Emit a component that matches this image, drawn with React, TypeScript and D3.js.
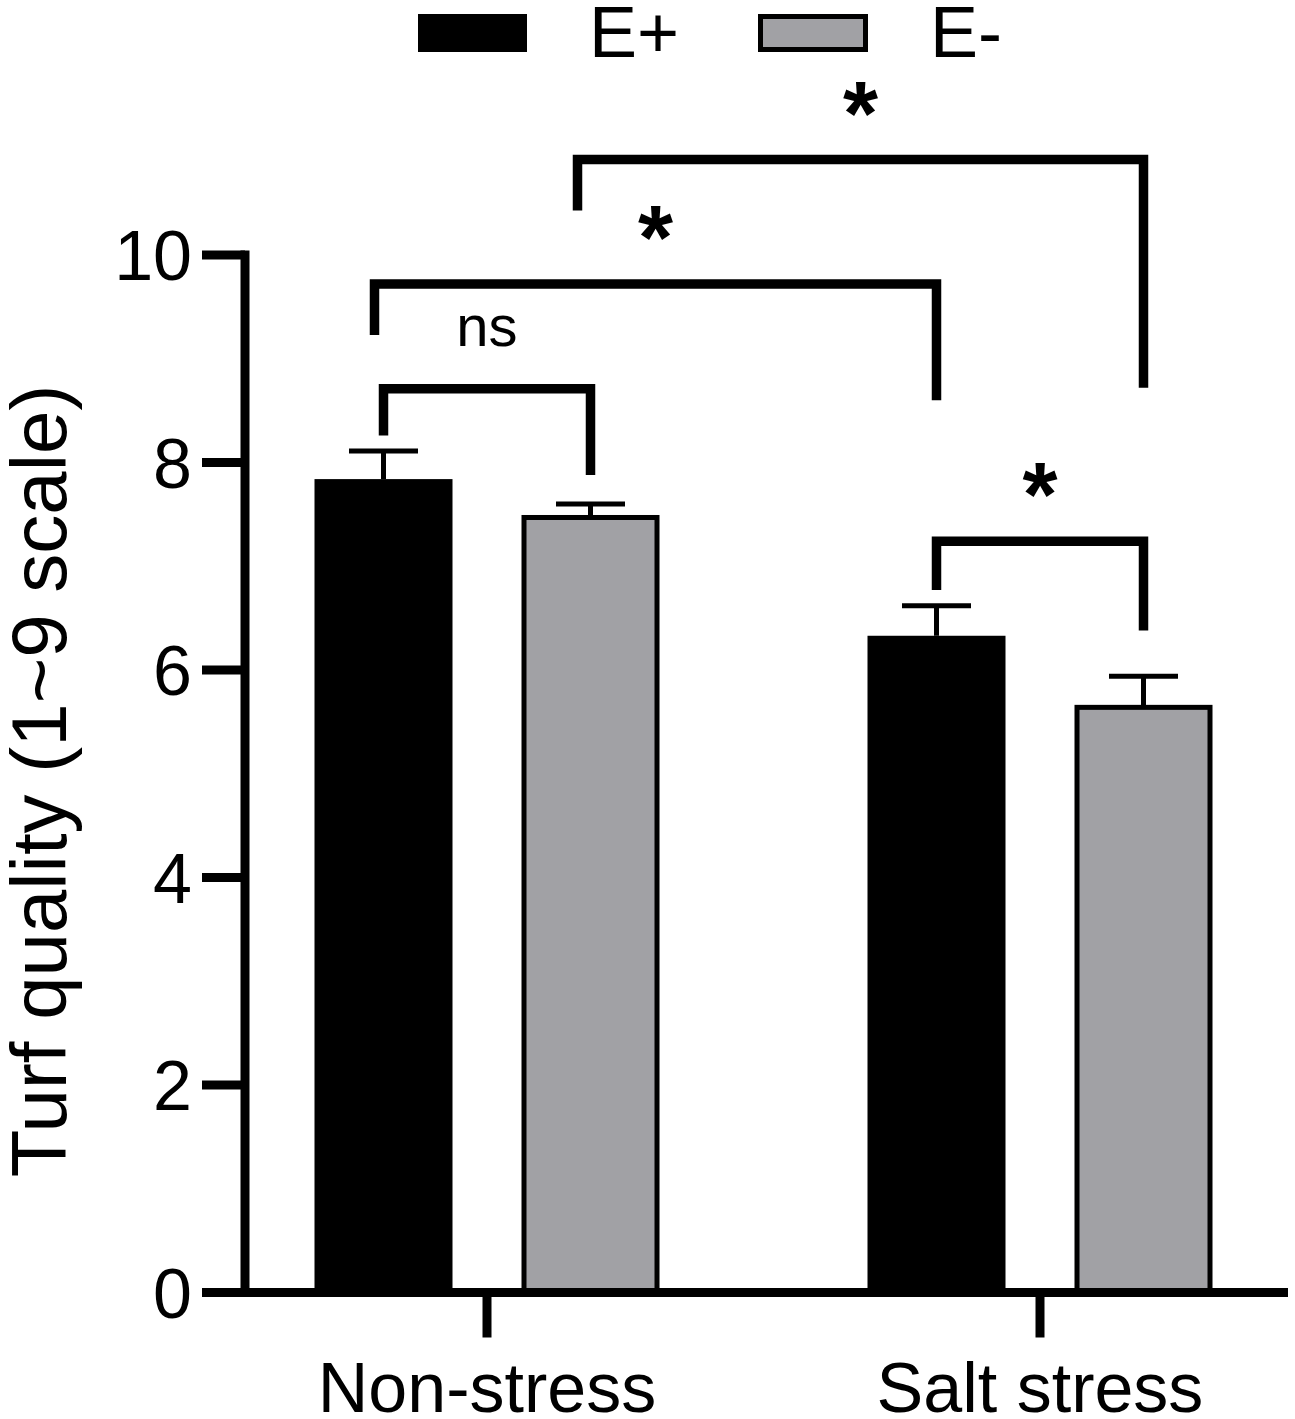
import React from "react";
import * as d3 from "d3";

const groups = ["Non-stress", "Salt stress"];
const series = ["E+", "E-"];
const meanEPlus = [7.84, 6.33];
const meanEMinus = [7.47, 5.64];
const semEPlus = [0.27, 0.29];
const semEMinus = [0.13, 0.3];
const yTicks = [0, 2, 4, 6, 8, 10];
const seriesFill = ["#000000", "#a1a1a5"];

// significance brackets: [group, series] endpoints, levels in data units
const bracketFrom = [[0, 0], [0, 0], [0, 1], [1, 0]];
const bracketTo = [[0, 1], [1, 0], [1, 1], [1, 1]];
const bracketLevel = [8.71, 9.72, 10.92, 7.24];
const bracketLeftEnd = [8.26, 9.23, 10.43, 6.77];
const bracketRightEnd = [7.88, 8.6, 8.72, 6.38];
const bracketLabel = ["ns", "*", "*", "*"];
const bracketLeftNudge = [0, -9, -13, 0];

const W = 1295;
const H = 1419;
const FONT = "'Liberation Sans', Arial, sans-serif";

export default function App() {
  const y = d3.scaleLinear().domain([0, 10]).range([1292.5, 255]);
  const xg = d3.scalePoint<string>().domain(groups).range([487, 1040]);
  const xs = d3.scaleBand<string>().domain(series).range([-172.5, 172.5]).paddingInner(1 / 3).paddingOuter(0);
  const bw = xs.bandwidth();
  const means = [meanEPlus, meanEMinus];
  const sems = [semEPlus, semEMinus];
  const cx = (g: number, s: number) => (xg(groups[g]) as number) + (xs(series[s]) as number) + bw / 2;

  const bars: any[] = [];
  groups.forEach((g, gi) => {
    series.forEach((s, si) => {
      bars.push({ gi, si, x: (xg(g) as number) + (xs(s) as number), v: means[si][gi], e: sems[si][gi] });
    });
  });

  const axisW = 9;
  const x0 = 202;
  const x1 = 1288;
  const yAxisX = 245;

  return (
    <svg width={W} height={H} style={{ position: "absolute", left: 0, top: 0, background: "#fff" }} fontFamily={FONT}>
      <rect x={0} y={0} width={W} height={H} fill="#fff" />
      {/* legend */}
      <rect x={418} y={14} width={109} height={38} fill={seriesFill[0]} />
      <text x={589} y={57} fontSize={72} fill="#000">{series[0]}</text>
      <rect x={760.5} y={16.5} width={105} height={33} fill={seriesFill[1]} stroke="#000" strokeWidth={5} />
      <text x={930} y={57} fontSize={72} fill="#000">{series[1]}</text>

      {/* bars */}
      {bars.map((b, i) =>
        b.si === 0 ? (
          <rect key={"b" + i} x={b.x} y={y(b.v)} width={bw} height={y(0) - y(b.v)} fill={seriesFill[0]} />
        ) : (
          <rect key={"b" + i} x={b.x + 2.5} y={y(b.v)} width={bw - 5} height={y(0) - y(b.v)} fill={seriesFill[1]} stroke="#000" strokeWidth={5} />
        )
      )}
      {/* error bars */}
      {bars.map((b, i) => {
        const c = b.x + bw / 2;
        return (
          <g key={"e" + i} stroke="#000" strokeWidth={5}>
            <line x1={c} x2={c} y1={y(b.v)} y2={y(b.v + b.e)} />
            <line x1={c - bw / 4} x2={c + bw / 4} y1={y(b.v + b.e)} y2={y(b.v + b.e)} />
          </g>
        );
      })}

      {/* y axis */}
      <line x1={yAxisX} x2={yAxisX} y1={y(10)} y2={y(0)} stroke="#000" strokeWidth={axisW} strokeLinecap="square" />
      {yTicks.map((t) => (
        <g key={"yt" + t}>
          <line x1={x0} x2={yAxisX} y1={y(t)} y2={y(t)} stroke="#000" strokeWidth={axisW} />
          <text x={192} y={y(t) + 25} fontSize={70} textAnchor="end" fill="#000">{t}</text>
        </g>
      ))}
      {/* x axis */}
      <line x1={x0} x2={x1} y1={y(0)} y2={y(0)} stroke="#000" strokeWidth={axisW} />
      {groups.map((g) => (
        <g key={"xt" + g}>
          <line x1={xg(g)} x2={xg(g)} y1={y(0)} y2={y(0) + 45} stroke="#000" strokeWidth={axisW} />
          <text x={xg(g)} y={1412} fontSize={70} textAnchor="middle" fill="#000">{g}</text>
        </g>
      ))}

      {/* y title */}
      <text transform={`translate(66,781) rotate(-90)`} fontSize={78} textAnchor="middle" fill="#000">Turf quality (1~9 scale)</text>

      {/* brackets */}
      {bracketLabel.map((lab, i) => {
        const xl = cx(bracketFrom[i][0], bracketFrom[i][1]) + bracketLeftNudge[i];
        const xr = cx(bracketTo[i][0], bracketTo[i][1]);
        const yl = y(bracketLevel[i]);
        const mid = (xl + xr) / 2;
        const labCenter = yl - 59;
        return (
          <g key={"br" + i}>
            <path
              d={`M${xl},${y(bracketLeftEnd[i])}V${yl}H${xr}V${y(bracketRightEnd[i])}`}
              fill="none"
              stroke="#000"
              strokeWidth={9.5}
              strokeLinejoin="miter"
            />
            {lab === "ns" ? (
              <text x={mid} y={labCenter + 16} fontSize={58} textAnchor="middle" fill="#000">{lab}</text>
            ) : (
              <text x={mid} y={labCenter + 44} fontSize={90} fontWeight="bold" textAnchor="middle" fill="#000">{lab}</text>
            )}
          </g>
        );
      })}
    </svg>
  );
}
